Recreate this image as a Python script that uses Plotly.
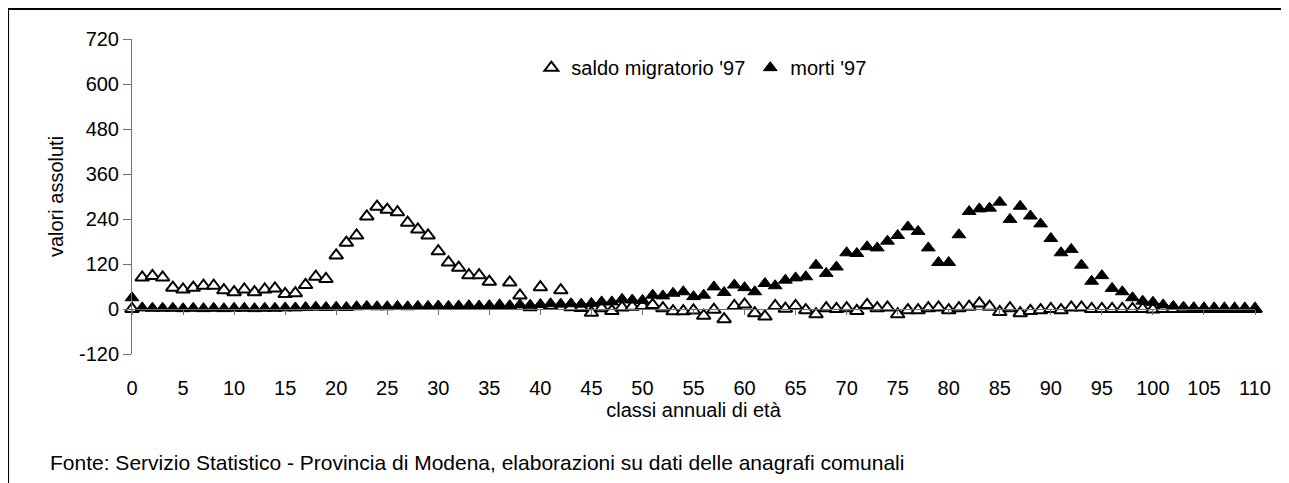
import plotly.graph_objects as go

# classi annuali di età 0..110
eta = list(range(0, 111))

saldo_migratorio_97 = [
    0, 84, 88, 84, 57, 52, 57, 62, 62, 50,
    45, 52, 45, 52, 55, 40, 42, 64, 86, 80,
    143, 177, 196, 247, 273, 265, 258, 230, 212, 196,
    154, 124, 110, 90, 90, 73, 8, 71, 36, 5,
    58, 8, 50, 5, 3, -10, 2, -5, 4, 6,
    8, 11, 2, -6, -6, -4, -18, -2, -27, 8,
    12, -11, -20, 8, 1, 8, -3, -14, 2, 0,
    2, -5, 11, 2, 4, -14, -3, -3, 2, 4,
    -3, 2, 6, 15, 6, -8, 2, -11, -5, -3,
    0, -3, 4, 4, 0, 0, 0, 0, 0, 0,
    -1, 0, 0, 0, 0, 0, 0, 0, 0, 0,
    0,
]

morti_97 = [
    30, 3, 2, 2, 2, 1, 2, 1, 2, 1,
    2, 2, 1, 2, 2, 3, 3, 4, 5, 4,
    5, 4, 6, 7, 6, 6, 7, 6, 7, 7,
    8, 7, 8, 9, 8, 9, 10, 9, 11, 10,
    12, 14, 13, 14, 13, 15, 19, 19, 26, 24,
    23, 37, 35, 42, 46, 33, 37, 59, 44, 64,
    57, 46, 68, 62, 77, 83, 86, 117, 95, 112,
    150, 148, 166, 163, 181, 196, 219, 207, 163, 124,
    124, 198, 260, 267, 269, 285, 239, 274, 248, 227,
    188, 150, 159, 117, 74, 89, 55, 46, 30, 21,
    18, 11, 7, 5, 3, 2, 2, 1, 1, 1,
    1,
]

y_ticks = [-120, 0, 120, 240, 360, 480, 600, 720]
x_ticks = list(range(0, 111, 5))

FONT = "Liberation Sans, Arial, sans-serif"
AXIS_GREY = "#707070"

fig = go.Figure()
fig.add_trace(go.Scatter(
    x=eta, y=saldo_migratorio_97, mode="markers", name="saldo migratorio '97",
    marker=dict(symbol="triangle-up", size=12, color="white", line=dict(color="black", width=2)),
    cliponaxis=False,
))
fig.add_trace(go.Scatter(
    x=eta, y=morti_97, mode="markers", name="morti '97",
    marker=dict(symbol="triangle-up", size=12, color="black", line=dict(color="black", width=1)),
    cliponaxis=False,
))

# cornice (solo lato sinistro e superiore visibili)
fig.add_shape(type="line", xref="paper", yref="paper", x0=-0.1106, x1=1.05, y0=1.0962, y1=1.0962,
              line=dict(color="black", width=2.5))
fig.add_shape(type="line", xref="paper", yref="paper", x0=-0.1106, x1=-0.1106, y0=1.0962, y1=-0.45,
              line=dict(color="black", width=2.5))

fig.add_annotation(
    text="Fonte: Servizio Statistico - Provincia di Modena, elaborazioni su dati delle anagrafi comunali",
    xref="paper", yref="paper", x=-0.0745, y=-0.345, xanchor="left", yanchor="middle",
    showarrow=False, font=dict(family=FONT, size=21, color="black"),
)

fig.update_layout(
    width=1289, height=483,
    # la pagina aggiunge 8px di margine: area del grafico spostata di conseguenza
    margin=dict(l=124, r=42, t=31, b=137),
    paper_bgcolor="white", plot_bgcolor="white",
    font=dict(family=FONT, size=20, color="black"),
    showlegend=True,
    legend=dict(orientation="h", x=0.507, y=0.909, xanchor="center", yanchor="middle",
                bgcolor="rgba(0,0,0,0)", font=dict(size=20), itemwidth=30),
)
fig.update_xaxes(
    range=[0, 110], tickvals=x_ticks, ticktext=[str(v) for v in x_ticks],
    anchor="free", position=120 / 840,
    showline=True, linecolor=AXIS_GREY, linewidth=1,
    ticks="outside", ticklen=5, tickcolor=AXIS_GREY,
    ticklabelstandoff=56, showgrid=False, zeroline=False,
    title=dict(text="classi annuali di età", standoff=0, font=dict(size=20)),
)
fig.update_yaxes(
    range=[-120, 720], tickvals=y_ticks, ticktext=[str(v) for v in y_ticks],
    showline=True, linecolor=AXIS_GREY, linewidth=1,
    ticks="outside", ticklen=8, tickcolor=AXIS_GREY,
    showgrid=False, zeroline=False,
    title=dict(text="valori assoluti", standoff=9, font=dict(size=20)),
)

fig.write_html("out.html")
